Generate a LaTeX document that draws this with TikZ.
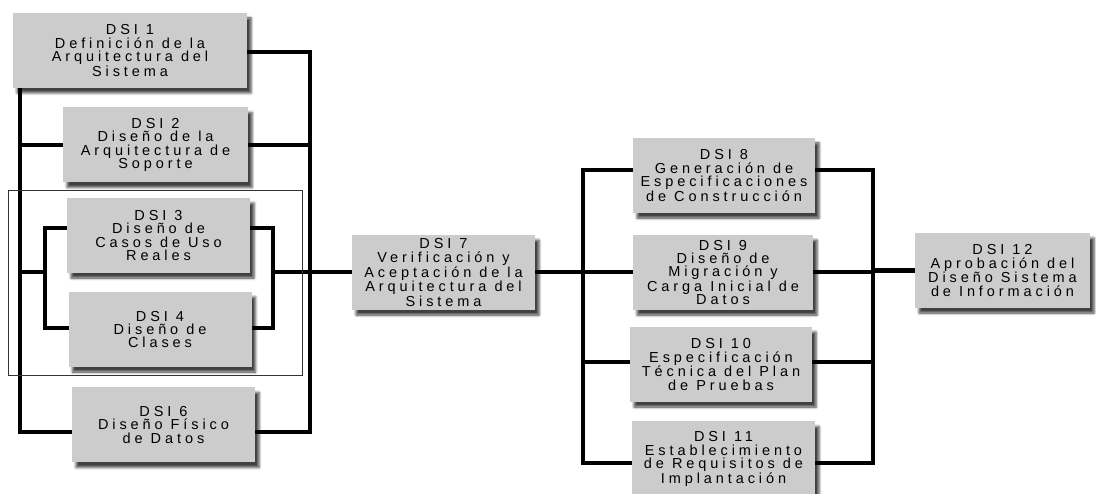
\documentclass[tikz,border=0pt]{standalone}
\usepackage{fontspec}
\setmainfont{Liberation Sans}[LetterSpace=27]
\usetikzlibrary{shadows.blur,backgrounds}
\begin{document}
\begin{tikzpicture}[x=1pt,y=-1pt,
  task/.style={fill=gray!40, inner sep=0pt, align=center,
    font=\fontsize{14.5}{13.4}\selectfont,
    execute at begin node={\spaceskip=8pt\relax},
    minimum height=75pt, minimum width=#1,
    blur shadow={shadow xshift=4pt, shadow yshift=-5pt,
      shadow blur radius=2.5pt, shadow opacity=75}},
  task/.default=183pt,
  bus/.style={line width=4.5pt, line cap=rect},
  frame/.style={draw=black!80, line width=0.9pt}]
\useasboundingbox (0,0) rectangle (1096,494);

% activity boxes
\node[task=234pt] (d1)  at (130,50.5)   {DSI 1\\Definición de la\\Arquitectura del\\Sistema};
\node[task=185pt] (d2)  at (155.5,145)  {DSI 2\\Diseño de la\\Arquitectura de\\Soporte};
\node[task]       (d3)  at (158.5,235.5){DSI 3\\Diseño de\\Casos de Uso\\Reales};
\node[task]       (d4)  at (160,329.5)  {DSI 4\\Diseño de\\Clases};
\node[task]       (d6)  at (163.5,425)  {DSI 6\\Diseño Físico\\de Datos};
\node[task]       (d7)  at (443.5,272.5){DSI 7\\Verificación y\\Aceptación de la\\Arquitectura del\\Sistema};
\node[task=182pt] (d8)  at (724,175.5)  {DSI 8\\Generación de\\Especificaciones\\de Construcción};
\node[task=180pt] (d9)  at (723,272.5)  {DSI 9\\Diseño de\\Migración y\\Carga Inicial de\\Datos};
\node[task=182pt] (d10) at (721,364.5)  {DSI 10\\Especificación\\Técnica del Plan\\de Pruebas};
\node[task=183pt] (d11) at (723.5,459)  {DSI 11\\Establecimiento\\de Requisitos de\\Implantación};
\node[task=175pt] (d12) at (1002.5,270.5){DSI 12\\Aprobación del\\Diseño Sistema\\de Información};

% bus lines
\coordinate (bl) at (20,0);    % outer left bus
\coordinate (br) at (310,0);   % outer right bus
\coordinate (il) at (45,0);    % inner left bus
\coordinate (ir) at (273,0);   % inner right bus
\coordinate (b2) at (583,0);   % split after DSI 7
\coordinate (b3) at (873,0);   % join before DSI 12
\coordinate (y1) at (0,52);
\coordinate (y3) at (0,228);
\coordinate (y4) at (0,328);
\coordinate (ym) at (0,272);
\coordinate (y6) at (0,432);
\coordinate (y8) at (0,170);
\coordinate (y10) at (0,362);
\coordinate (y11) at (0,463);

\begin{scope}[on background layer]
  % left group
  \draw[bus] (bl |- d1.south) -- (bl |- y6) -- (d6.west |- y6);
  \draw[bus] (bl |- d2.west) -- (d2.west);
  \draw[bus] (d1.east |- y1) -- (br |- y1) -- (br |- y6) -- (d6.east |- y6);
  \draw[bus] (d2.east) -- (br |- d2.east);
  % inner pair DSI 3 / DSI 4
  \draw[bus] (d3.west |- y3) -- (il |- y3) -- (il |- y4) -- (d4.west |- y4);
  \draw[bus] (d3.east |- y3) -- (ir |- y3) -- (ir |- y4) -- (d4.east |- y4);
  \draw[bus] (bl |- ym) -- (il |- ym);
  \draw[bus] (ir |- ym) -- (d7.west |- ym);
  % right group
  \draw[bus] (d7.east |- ym) -- (d9.west |- ym);
  \draw[bus] (d8.west |- y8) -- (b2 |- y8) -- (b2 |- y11) -- (d11.west |- y11);
  \draw[bus] (b2 |- y10) -- (d10.west |- y10);
  \draw[bus] (d8.east |- y8) -- (b3 |- y8) -- (b3 |- y11) -- (d11.east |- y11);
  \draw[bus] (d9.east |- ym) -- (b3 |- ym);
  \draw[bus] (d10.east |- y10) -- (b3 |- y10);
  \draw[bus] (b3 |- d12.west) -- (d12.west);
\end{scope}

% thin frame round DSI 3 and DSI 4
\draw[frame] (8,190) rectangle (302,375);
\end{tikzpicture}
\end{document}
